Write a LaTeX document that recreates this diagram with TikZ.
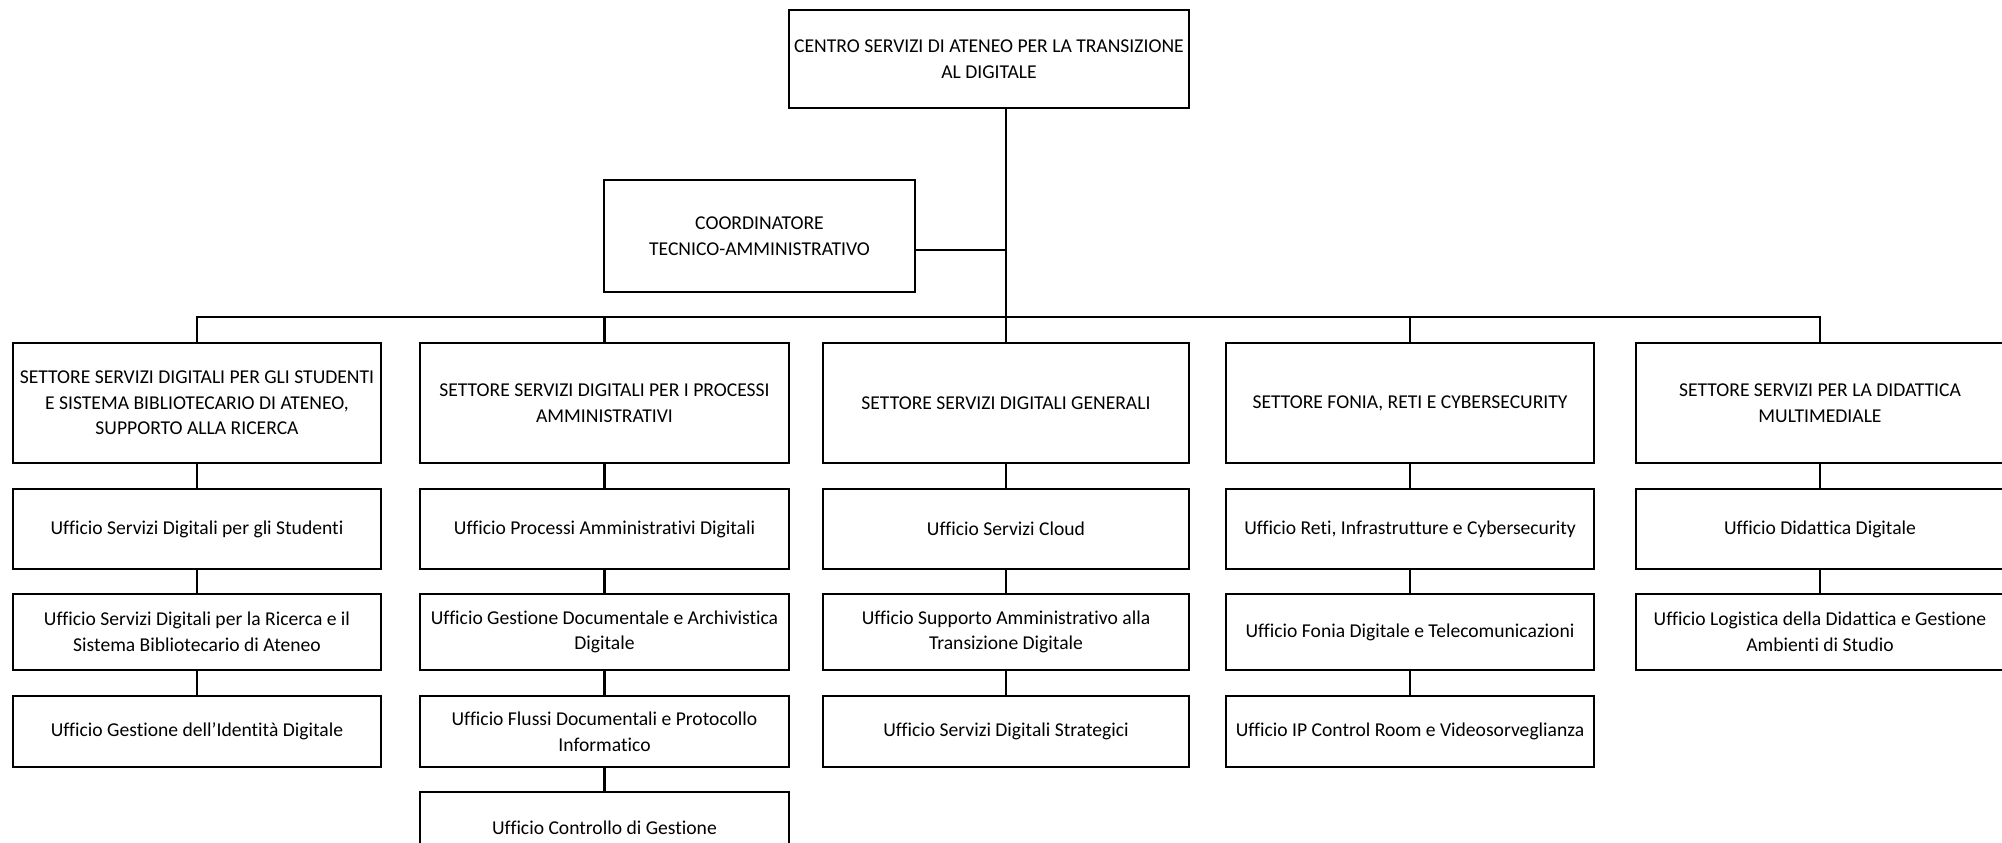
\documentclass[tikz,border=0pt]{standalone}
\usepackage{fontspec}
\setmainfont{Carlito}[Ligatures={NoCommon}]
\begin{document}
\begin{tikzpicture}[x=0.5pt,y=-0.5pt,
  box/.style={draw=black, line width=1.25pt, fill=white, inner sep=0pt,
    align=center, font=\fontsize{9.8pt}{12.8pt}\selectfont, text=black},
  link/.style={draw=black, line width=1.05pt}]
\useasboundingbox (0,0) rectangle (2002,842);
\clip (0,0) rectangle (2002,842);
% box: name, x1, y1, x2, y2, text
\newcommand\orgbox[6]{%
  \node[box, minimum width={(#4-#2)*0.5pt}, minimum height={(#5-#3)*0.5pt}]
    (#1) at ({(#2+#4)/2},{(#3+#5)/2}) {#6};}

% top level
\orgbox{centro}{789}{10}{1189}{108}{CENTRO SERVIZI DI ATENEO PER LA TRANSIZIONE\\AL DIGITALE}
\orgbox{coord}{604}{180}{915}{292}{COORDINATORE\\TECNICO-AMMINISTRATIVO}

% sectors
\orgbox{s1}{13}{343}{381}{463}{SETTORE SERVIZI DIGITALI PER GLI STUDENTI\\E SISTEMA BIBLIOTECARIO DI ATENEO,\\SUPPORTO ALLA RICERCA}
\orgbox{s2}{420}{343}{789}{463}{SETTORE SERVIZI DIGITALI PER I PROCESSI\\AMMINISTRATIVI}
\orgbox{s3}{823}{343}{1189}{463}{SETTORE SERVIZI DIGITALI GENERALI}
\orgbox{s4}{1226}{343}{1594}{463}{SETTORE FONIA, RETI E CYBERSECURITY}
\orgbox{s5}{1636}{343}{2004}{463}{SETTORE SERVIZI PER LA DIDATTICA\\MULTIMEDIALE}

% offices, column 1
\orgbox{a1}{13}{489}{381}{569}{Ufficio Servizi Digitali per gli Studenti}
\orgbox{a2}{13}{594}{381}{670}{Ufficio Servizi Digitali per la Ricerca e il\\Sistema Bibliotecario di Ateneo}
\orgbox{a3}{13}{696}{381}{767}{Ufficio Gestione dell'Identità Digitale}
% column 2
\orgbox{b1}{420}{489}{789}{569}{Ufficio Processi Amministrativi Digitali}
\orgbox{b2}{420}{594}{789}{670}{Ufficio Gestione Documentale e Archivistica\\Digitale}
\orgbox{b3}{420}{696}{789}{767}{Ufficio Flussi Documentali e Protocollo\\Informatico}
\orgbox{b4}{420}{792}{789}{864}{Ufficio Controllo di Gestione}
% column 3
\orgbox{c1}{823}{489}{1189}{569}{Ufficio Servizi Cloud}
\orgbox{c2}{823}{594}{1189}{670}{Ufficio Supporto Amministrativo alla\\Transizione Digitale}
\orgbox{c3}{823}{696}{1189}{767}{Ufficio Servizi Digitali Strategici}
% column 4
\orgbox{d1}{1226}{489}{1594}{569}{Ufficio Reti, Infrastrutture e Cybersecurity}
\orgbox{d2}{1226}{594}{1594}{670}{Ufficio Fonia Digitale e Telecomunicazioni}
\orgbox{d3}{1226}{696}{1594}{767}{Ufficio IP Control Room e Videosorveglianza}
% column 5
\orgbox{e1}{1636}{489}{2004}{569}{Ufficio Didattica Digitale}
\orgbox{e2}{1636}{594}{2004}{670}{Ufficio Logistica della Didattica e Gestione\\Ambienti di Studio}

% trunk and bus
\coordinate (trunktop) at (1006,108);
\coordinate (trunkmid) at (1006,250);
\coordinate (bus) at (1006,317);
\draw[link] (trunktop) -- (s3.north -| trunktop);
\draw[link] (coord.east |- trunkmid) -- (trunkmid);
\draw[link] (s1.north) -- (s1.north |- bus) -- (s5.north |- bus) -- (s5.north);
\draw[link] (s2.north) -- (s2.north |- bus);
\draw[link] (s4.north) -- (s4.north |- bus);

% column chains
\draw[link] (s1) -- (a1) (a1) -- (a2) (a2) -- (a3);
\draw[link] (s2) -- (b1) (b1) -- (b2) (b2) -- (b3) (b3) -- (b4);
\draw[link] (s3) -- (c1) (c1) -- (c2) (c2) -- (c3);
\draw[link] (s4) -- (d1) (d1) -- (d2) (d2) -- (d3);
\draw[link] (s5) -- (e1) (e1) -- (e2);
\end{tikzpicture}
\end{document}
